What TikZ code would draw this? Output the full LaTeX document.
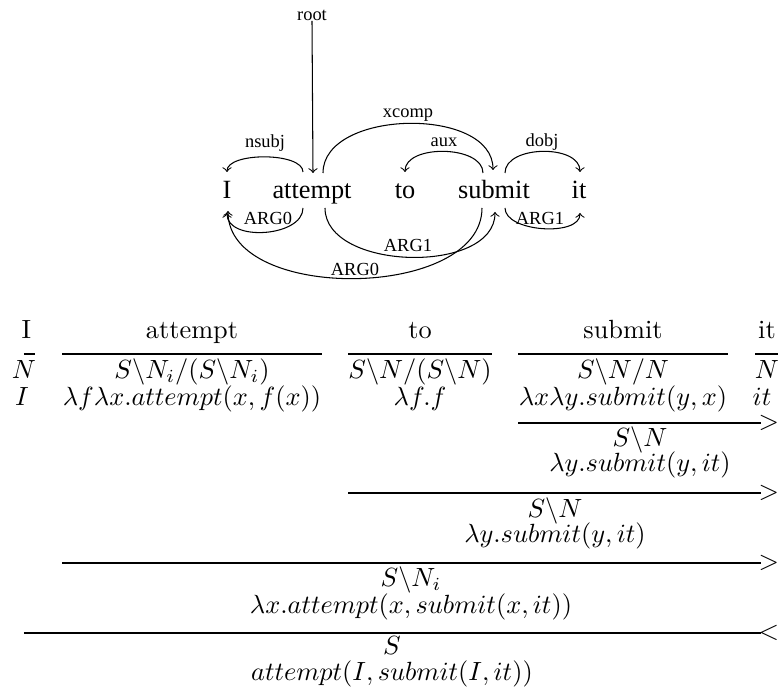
\documentclass[tikz,border=0pt]{standalone}
\usepackage{fontspec}
\newfontfamily\tms{Liberation Serif}
\begin{document}
\begin{tikzpicture}[x=0.38pt,y=-0.38pt,
  word/.style={font=\fontsize{10}{12}\tms, inner sep=0, anchor=base},
  dlab/.style={font=\fontsize{7}{8}\tms, inner sep=0},
  deparc/.style={->, line width=0.4pt},
  cell/.style={inner sep=0, anchor=base, font=\fontsize{10}{12}\selectfont},
  rulebar/.style={line width=0.5pt},
  comb/.style={inner sep=0, anchor=west, font=\fontsize{10}{12}\selectfont}]
\useasboundingbox (0,0) rectangle (780,691);

% ---------------- dependency / SRL graph ----------------
\node[word] (wI)   at (227,199) {I};
\node[word] (wAtt) at (312,199) {attempt};
\node[word] (wTo)  at (405,199) {to};
\node[word] (wSub) at (494,199) {submit};
\node[word] (wIt)  at (579,199) {it};

\node[dlab] (root) at (312,15) {root};
\coordinate (attTop) at (313,173);
\draw[deparc] (root.south) -- (attTop);

% top arcs
\coordinate (att1) at (303,172);
\coordinate (att2) at (323,173);
\coordinate (iTop) at (227,172);
\coordinate (sub1) at (483,173);
\coordinate (sub2) at (493,170);
\coordinate (sub3) at (505,173);
\coordinate (toTop) at (405,172);
\coordinate (itTop) at (580,172);

\draw[deparc] (att1) .. controls +(0,-20) and +(0,-20) .. (iTop);
\node[dlab] (lnsubj) at (265,143) {nsubj};
\draw[deparc] (att2) .. controls +(0,-64) and +(0,-64) .. (sub2);
\node[dlab] (lxcomp) at (408,115) {xcomp};
\draw[deparc] (sub1) .. controls +(0,-28) and +(0,-28) .. (toTop);
\node[dlab] (laux) at (444,142) {aux};
\draw[deparc] (sub3) .. controls +(0,-28) and +(0,-28) .. (itTop);
\node[dlab] (ldobj) at (542,142) {dobj};

% bottom arcs
\coordinate (attB1) at (303,208);
\coordinate (attB2) at (325,208);
\coordinate (iBot1) at (227,213);
\coordinate (iBot2) at (228,211);
\coordinate (subB1) at (482,208);
\coordinate (subB2) at (495,212);
\coordinate (subB3) at (505,208);
\coordinate (itBot) at (580,213);

\draw[deparc] (attB1) .. controls +(0,29) and +(0,29) .. (iBot1);
\node[dlab] (larg0a) at (268,218) {ARG0};
\draw[deparc] (attB2) .. controls +(0,63) and +(0,63) .. (subB2);
\node[dlab] (larg1a) at (408,245) {ARG1};
\draw[deparc] (subB1) .. controls +(0,92) and +(0,92) .. (iBot2);
\node[dlab] (larg0b) at (355,269) {ARG0};
\draw[deparc] (subB3) .. controls +(0,24) and +(0,24) .. (itBot);
\node[dlab] (larg1b) at (540,218) {ARG1};

% ---------------- CCG derivation ----------------
\node[cell] (cI)   at (26.5,339) {I};
\node[cell] (cAtt) at (192,339) {attempt};
\node[cell] (cTo)  at (420,339) {to};
\node[cell] (cSub) at (623,339) {submit};
\node[cell] (cIt)  at (767,339) {it};

\draw[rulebar] (24,354) -- (35,354);
\draw[rulebar] (62,354) -- (322,354);
\draw[rulebar] (348,354) -- (492,354);
\draw[rulebar] (518,354) -- (728,354);
\draw[rulebar] (755,354) -- (778,354);

\node[cell] (kI)   at (24,379)  {$N$};
\node[cell] (kAtt) at (192,379) {$S\backslash N_i/(S\backslash N_i)$};
\node[cell] (kTo)  at (420,379) {$S\backslash N/(S\backslash N)$};
\node[cell] (kSub) at (623,379) {$S\backslash N/N$};
\node[cell] (kIt)  at (767,379) {$N$};

\node[cell] (sI)   at (22,406)  {$I$};
\node[cell] (sAtt) at (192,406) {$\lambda f\lambda x.attempt(x,f(x))$};
\node[cell] (sTo)  at (420,406) {$\lambda f.f$};
\node[cell] (sSub) at (623,406) {$\lambda x\lambda y.submit(y,x)$};
\node[cell] (sIt)  at (762,406) {$it$};

% step 1
\draw[rulebar] (518,423) -- (761,423);
\node[comb] (op1) at (758,423) {$>$};
\node[cell] (k1) at (640,447) {$S\backslash N$};
\node[cell] (s1) at (640,472) {$\lambda y.submit(y,it)$};

% step 2
\draw[rulebar] (348,493) -- (761,493);
\node[comb] (op2) at (758,493) {$>$};
\node[cell] (k2) at (555,518) {$S\backslash N$};
\node[cell] (s2) at (555,543) {$\lambda y.submit(y,it)$};

% step 3
\draw[rulebar] (62,563) -- (761,563);
\node[comb] (op3) at (758,563) {$>$};
\node[cell] (k3) at (411,587) {$S\backslash N_i$};
\node[cell] (s3) at (411,614) {$\lambda x.attempt(x,submit(x,it))$};

% step 4
\draw[rulebar] (24,633) -- (761,633);
\node[comb] (op4) at (758,633) {$<$};
\node[cell] (k4) at (392,655) {$S$};
\node[cell] (s4) at (392,681) {$attempt(I,submit(I,it))$};
\end{tikzpicture}
\end{document}
